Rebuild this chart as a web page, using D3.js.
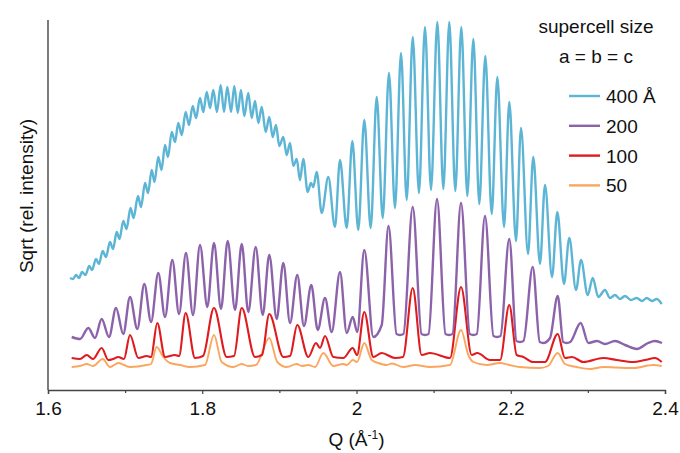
<!DOCTYPE html>
<html>
<head>
<meta charset="UTF-8">
<script src="https://cdn.jsdelivr.net/npm/d3@7"></script>
<style>
  body { margin: 0; background: #fff; }
  text { font-family: "Liberation Sans", Arial, sans-serif; fill: #111; }
</style>
</head>
<body>
<svg id="svg" width="680" height="453"></svg>
<script>
// Q (1/A) and sqrt intensity, peaks and troughs
const s400 = [[1.6285,11.2],[1.6324,11.1],[1.6363,11.5],[1.6402,11.2],[1.6441,11.8],[1.6486,11.5],[1.6535,12.4],[1.6571,12.0],
  [1.6622,13.1],[1.6661,12.6],[1.6709,13.9],[1.6752,13.3],[1.6804,14.8],[1.6843,14.1],[1.6891,15.8],[1.6927,15.1],
  [1.6976,16.9],[1.7018,16.1],[1.7070,18.2],[1.7109,17.2],[1.7167,19.4],[1.7206,18.3],[1.7258,20.7],[1.7297,19.7],
  [1.7345,22.0],[1.7381,20.8],[1.7430,23.3],[1.7472,22.0],[1.7517,24.5],[1.7556,23.3],[1.7604,25.8],[1.7647,24.8],
  [1.7689,26.7],[1.7734,25.5],[1.7785,27.8],[1.7828,26.5],[1.7876,28.4],[1.7919,27.2],[1.7971,29.2],[1.8014,27.8],
  [1.8058,29.8],[1.8101,28.2],[1.8143,30.0],[1.8191,27.8],[1.8239,30.5],[1.8282,27.8],[1.8325,30.3],[1.8373,27.8],
  [1.8416,30.4],[1.8460,27.7],[1.8502,30.0],[1.8545,27.4],[1.8597,29.7],[1.8641,27.2],[1.8684,28.9],[1.8727,26.7],
  [1.8771,28.3],[1.8823,25.8],[1.8869,27.3],[1.8914,25.3],[1.8956,26.5],[1.8999,24.4],[1.9051,25.3],[1.9095,23.5],
  [1.9138,24.7],[1.9181,22.4],[1.9225,23.1],[1.9267,21.0],[1.9310,23.1],[1.9367,19.8],[1.9410,20.7],[1.9440,20.3],
  [1.9484,21.8],[1.9549,17.7],[1.9634,21.3],[1.9721,16.3],[1.9786,23.0],[1.9873,16.2],[1.9946,24.9],[2.0023,16.0],
  [2.0101,27.0],[2.0184,16.2],[2.0262,29.3],[2.0340,17.2],[2.0421,31.7],[2.0499,18.2],[2.0577,33.7],[2.0651,19.0],
  [2.0729,35.3],[2.0810,19.7],[2.0888,36.3],[2.0966,20.0],[2.1048,36.8],[2.1126,20.1],[2.1203,36.8],[2.1281,19.9],
  [2.1359,36.3],[2.1437,19.4],[2.1515,35.1],[2.1592,18.6],[2.1670,33.4],[2.1753,17.6],[2.1826,31.3],[2.1913,16.3],
  [2.1981,28.8],[2.2068,14.9],[2.2133,26.2],[2.2224,13.6],[2.2292,23.3],[2.2379,12.6],[2.2444,20.5],[2.2535,11.3],
  [2.2604,17.8],[2.2690,10.6],[2.2759,15.2],[2.2846,10.0],[2.2911,13.0],[2.2998,9.5],[2.3063,11.2],[2.3135,9.3],
  [2.3222,10.0],[2.3287,9.2],[2.3352,9.5],[2.3417,9.1],[2.3481,9.4],[2.3559,9.0],[2.3633,9.2],[2.3702,8.9],
  [2.3763,9.2],[2.3832,8.9],[2.3892,9.1],[2.3957,8.6]];

const s200 = [[1.6307,5.3],[1.6415,5.1],[1.6523,6.2],[1.6609,5.2],[1.6696,7.1],[1.6791,5.3],[1.6882,8.2],[1.6976,5.6],
  [1.7063,9.3],[1.7158,6.1],[1.7249,10.6],[1.7336,6.8],[1.7430,11.7],[1.7517,7.3],[1.7612,13.0],[1.7699,7.6],
  [1.7789,13.7],[1.7880,7.5],[1.7971,14.5],[1.8066,8.3],[1.8152,14.7],[1.8243,8.1],[1.8330,14.9],[1.8425,8.0],
  [1.8512,14.6],[1.8597,7.8],[1.8693,14.3],[1.8784,7.5],[1.8869,13.5],[1.8965,7.1],[1.9051,12.7],[1.9138,6.7],
  [1.9232,11.5],[1.9319,6.4],[1.9414,10.5],[1.9497,6.0],[1.9592,9.2],[1.9678,5.8],[1.9786,11.8],[1.9873,5.7],
  [1.9951,7.3],[2.0010,5.8],[2.0101,14.0],[2.0218,5.3],[2.0327,6.5],[2.0415,16.4],[2.0519,5.6],[2.0564,5.5],
  [2.0609,5.6],[2.0729,18.3],[2.0843,5.6],[2.0888,5.5],[2.0934,5.6],[2.1044,19.1],[2.1154,5.6],[2.1199,5.5],
  [2.1245,5.6],[2.1355,18.7],[2.1469,5.6],[2.1515,5.5],[2.1560,5.6],[2.1666,17.4],[2.1776,5.4],[2.1822,5.3],
  [2.1867,5.4],[2.1981,15.1],[2.2074,4.9],[2.2120,4.8],[2.2165,4.9],[2.2285,12.3],[2.2376,4.8],[2.2422,4.7],
  [2.2509,5.2],[2.2609,9.4],[2.2680,4.8],[2.2726,4.7],[2.2771,4.8],[2.2907,6.7],[2.3006,4.7],[2.3118,4.9],
  [2.3222,4.6],[2.3352,4.9],[2.3481,4.5],[2.3637,4.1],[2.3780,4.7],[2.3870,4.9],[2.3961,4.7]];

const s100 = [[1.6307,3.2],[1.6415,3.1],[1.6502,3.5],[1.6583,3.1],[1.6696,4.2],[1.6782,3.0],[1.6843,3.1],[1.6912,3.3],
  [1.6985,3.1],[1.7063,5.5],[1.7171,3.2],[1.7280,3.4],[1.7336,3.3],[1.7417,6.7],[1.7517,3.3],[1.7647,3.5],
  [1.7699,3.4],[1.7785,7.7],[1.7906,3.2],[1.8010,3.4],[1.8152,8.2],[1.8317,3.3],[1.8412,3.4],[1.8512,8.2],
  [1.8684,3.3],[1.8775,3.5],[1.8869,7.6],[1.9051,3.3],[1.9138,3.4],[1.9232,6.5],[1.9375,3.3],[1.9475,4.7],
  [1.9527,4.2],[1.9592,5.4],[1.9699,3.3],[1.9829,3.2],[1.9951,4.2],[2.0007,3.5],[2.0101,7.8],[2.0218,3.3],
  [2.0327,3.7],[2.0499,3.2],[2.0603,3.3],[2.0729,10.2],[2.0845,3.5],[2.0953,3.7],[2.1212,3.2],[2.1355,10.3],
  [2.1494,3.5],[2.1566,3.7],[2.1731,3.0],[2.1861,3.0],[2.1981,8.5],[2.2077,3.5],[2.2163,3.3],[2.2292,2.8],
  [2.2444,2.8],[2.2609,5.6],[2.2703,3.2],[2.2794,3.3],[2.2941,2.8],[2.3200,3.2],[2.3374,3.0],[2.3589,2.8],
  [2.3741,3.0],[2.3870,3.2],[2.3957,2.8]];

const s50 = [[1.6307,2.3],[1.6415,2.4],[1.6502,2.6],[1.6583,2.4],[1.6709,3.1],[1.6804,2.3],[1.6912,2.7],[1.6985,2.5],
  [1.7063,2.3],[1.7280,2.5],[1.7336,2.6],[1.7409,4.3],[1.7495,3.3],[1.7582,2.7],[1.7712,2.5],[1.7841,2.3],
  [1.8036,2.5],[1.8152,5.5],[1.8252,2.8],[1.8403,2.3],[1.8512,2.6],[1.8593,2.4],[1.8697,2.5],[1.8869,5.2],
  [1.8973,2.8],[1.9095,2.3],[1.9225,2.6],[1.9293,2.4],[1.9375,2.5],[1.9462,2.3],[1.9570,3.7],[1.9699,2.4],
  [1.9829,2.6],[1.9877,2.5],[1.9951,3.0],[2.0007,2.8],[2.0101,4.7],[2.0197,3.0],[2.0283,2.7],[2.0392,2.5],
  [2.0460,2.65],[2.0607,2.3],[2.0759,2.5],[2.0953,2.3],[2.1212,2.5],[2.1355,6.0],[2.1450,3.5],[2.1515,2.8],
  [2.1688,2.5],[2.1861,2.7],[2.1981,2.5],[2.2120,2.3],[2.2379,2.2],[2.2483,2.4],[2.2609,3.7],[2.2703,2.6],
  [2.2855,2.3],[2.3028,2.1],[2.3200,2.3],[2.3374,2.25],[2.3589,2.2],[2.3848,2.5],[2.3957,2.4]];

const seriesNames = ["400 Å", "200", "100", "50"];
const seriesColors = ["#5db5d6", "#8c62aa", "#df1b1e", "#fba65e"];
const xTicks = [1.6, 1.8, 2.0, 2.2, 2.4];
const xMinorTicks = [1.7, 1.9, 2.1, 2.3];

const svg = d3.select("#svg");
const plotLeft = 48, plotRight = 665, plotTop = 20, plotBottom = 390;

const x = d3.scaleLinear().domain([1.6, 2.4]).range([plotLeft, plotRight]);
const y = d3.scaleLinear().domain([0, 37]).range([plotBottom, plotTop]);

// curves, smallest first so the big one sits on top
const lineGen = d3.line().x(d => x(d[0])).y(d => y(d[1])).curve(d3.curveMonotoneX);
const allSeries = [s400, s200, s100, s50];
const widths = [2.4, 2.4, 2.1, 1.9];
for (let i = 3; i >= 0; i--) {
  svg.append("path").datum(allSeries[i])
    .attr("d", lineGen)
    .attr("fill", "none")
    .attr("stroke", seriesColors[i])
    .attr("stroke-width", widths[i])
    .attr("stroke-linejoin", "round");
}

// axes
const xAxis = d3.axisBottom(x).tickValues(xTicks).tickSize(4).tickPadding(8)
  .tickFormat(d3.format("~g"));
const gx = svg.append("g").attr("transform", "translate(0," + plotBottom + ")").call(xAxis);
gx.select(".domain").attr("stroke", "#444").attr("stroke-width", 1.4);
gx.selectAll(".tick line").attr("stroke", "#444").attr("stroke-width", 1.2);
gx.selectAll(".tick text").style("font-size", "19px").style("font-family", "Liberation Sans, Arial, sans-serif").attr("fill", "#111");

const gxm = svg.append("g").attr("transform", "translate(0," + plotBottom + ")")
  .call(d3.axisBottom(x).tickValues(xMinorTicks).tickSize(3).tickFormat(""));
gxm.select(".domain").remove();
gxm.selectAll(".tick line").attr("stroke", "#444").attr("stroke-width", 1.2);

svg.append("line")
  .attr("x1", plotLeft).attr("x2", plotLeft).attr("y1", plotTop).attr("y2", plotBottom)
  .attr("stroke", "#444").attr("stroke-width", 1.4);

// axis titles
const xt = svg.append("text").attr("x", (plotLeft + plotRight) / 2).attr("y", 446)
  .attr("text-anchor", "middle").style("font-size", "19px");
xt.append("tspan").text("Q (Å");
xt.append("tspan").attr("dy", -7).style("font-size", "12px").text("-1");
xt.append("tspan").attr("dy", 7).text(")");

svg.append("text")
  .attr("transform", "translate(33,196) rotate(-90)")
  .attr("text-anchor", "middle").style("font-size", "19px")
  .text("Sqrt (rel. intensity)");

// legend
svg.append("text").attr("x", 596).attr("y", 33).attr("text-anchor", "middle")
  .style("font-size", "19px").text("supercell size");
svg.append("text").attr("x", 596).attr("y", 63).attr("text-anchor", "middle")
  .style("font-size", "19px").text("a = b = c");

const legend = svg.append("g");
seriesNames.forEach((name, i) => {
  const cy = 96 + i * 29.8;
  legend.append("line").attr("x1", 569).attr("x2", 600).attr("y1", cy).attr("y2", cy)
    .attr("stroke", seriesColors[i]).attr("stroke-width", 2.4);
  legend.append("text").attr("x", 606).attr("y", cy + 7)
    .style("font-size", "19px").text(name);
});
</script>
</body>
</html>
